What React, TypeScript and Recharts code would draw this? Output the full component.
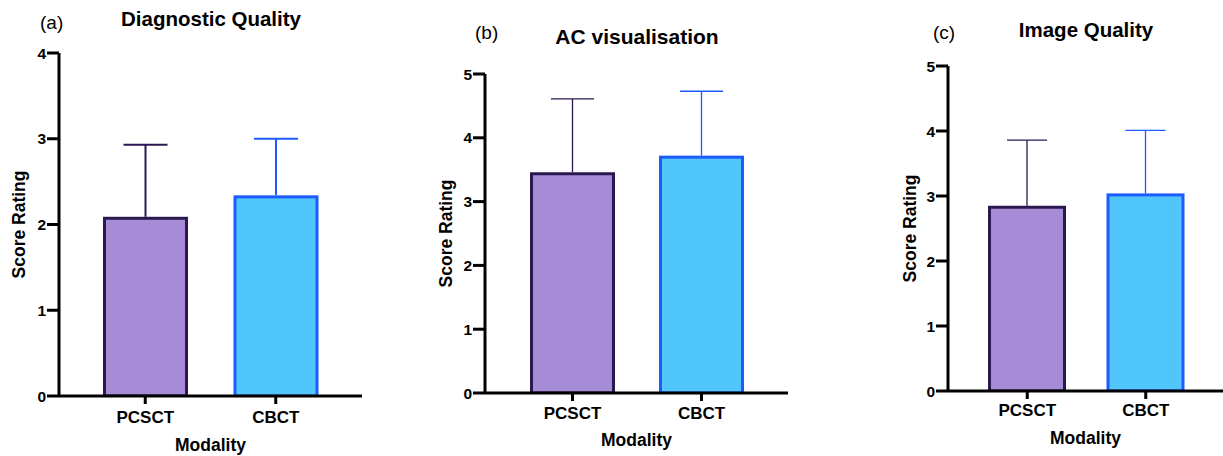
import { BarChart, Bar, XAxis, YAxis } from 'recharts';

const categories = ['PCSCT', 'CBCT'];

const diagnosticMean = [2.09, 2.34];
const diagnosticSd = [0.84, 0.66];

const acMean = [3.46, 3.72];
const acSd = [1.15, 1.01];

const imageMean = [2.85, 3.04];
const imageSd = [1.01, 0.97];

const ticks4 = [0, 1, 2, 3, 4];
const ticks5 = [0, 1, 2, 3, 4, 5];

const FILLS = ['#a68bd6', '#50c6fb'];
const STROKES = ['#2b1850', '#1e5bff'];
const FONT = '"Liberation Sans", Arial, sans-serif';
const AXIS_W = 3;

const buildRows = (means: number[], sds: number[]) =>
  categories.map((name, i) => ({ name, mean: means[i], sd: sds[i] }));

interface PanelProps {
  means: number[];
  sds: number[];
  yMax: number;
  ticks: number[];
  left: number;
  width: number;
  top: number;
  bottom: number;
  right: number;
  yWidth: number;
  padL: number;
  padR: number;
  barSize: number;
  capWidth: number;
  errWidth: number;
  yLabelOffset: number;
  xLabelOffset: number;
  xTickMargin: number;
}

function Panel(p: PanelProps) {
  const data = buildRows(p.means, p.sds);

  // bar with outline plus the upper error whisker
  const BarShape = (props: any) => {
    const { x, y, width, height, index, payload } = props;
    const perUnit = height / payload.mean;
    const errTop = y - payload.sd * perUnit;
    const cx = x + width / 2;
    const sw = 3;
    return (
      <g>
        <line x1={cx} x2={cx} y1={y} y2={errTop} stroke={STROKES[index]} strokeWidth={p.errWidth} />
        <line
          x1={cx - p.capWidth / 2}
          x2={cx + p.capWidth / 2}
          y1={errTop}
          y2={errTop}
          stroke={STROKES[index]}
          strokeWidth={p.errWidth}
        />
        <rect
          x={x + sw / 2}
          y={y + sw / 2}
          width={width - sw}
          height={height - sw / 2}
          fill={FILLS[index]}
          stroke={STROKES[index]}
          strokeWidth={sw}
        />
      </g>
    );
  };

  const XTick = (props: any) => {
    const { x, y, payload } = props;
    const axisY = y - p.xTickMargin;
    return (
      <g>
        <line x1={x} x2={x} y1={axisY} y2={axisY + 8} stroke="#000" strokeWidth={AXIS_W} />
        <text
          x={x}
          y={y + 12}
          textAnchor="middle"
          fontFamily={FONT}
          fontWeight="bold"
          fontSize={17}
          fill="#000"
        >
          {payload.value}
        </text>
      </g>
    );
  };

  const YTick = (props: any) => {
    const { x, y, payload } = props;
    return (
      <g>
        <line x1={x + 1} x2={x + 13} y1={y} y2={y} stroke="#000" strokeWidth={AXIS_W} />
        <text
          x={x}
          y={y + 5.5}
          textAnchor="end"
          fontFamily={FONT}
          fontWeight="bold"
          fontSize={15.5}
          fill="#000"
        >
          {payload.value}
        </text>
      </g>
    );
  };

  const yLabel = (props: any) => {
    const vb = props.viewBox;
    const lx = vb.x + p.yLabelOffset;
    const ly = vb.y + vb.height / 2;
    return (
      <text
        x={lx}
        y={ly}
        transform={`rotate(-90, ${lx}, ${ly})`}
        textAnchor="middle"
        dominantBaseline="central"
        fontFamily={FONT}
        fontWeight="bold"
        fontSize={17.5}
        fill="#000"
      >
        Score Rating
      </text>
    );
  };

  const xLabel = (props: any) => {
    const vb = props.viewBox;
    return (
      <text
        x={vb.x + vb.width / 2}
        y={vb.y + vb.height + p.xLabelOffset}
        textAnchor="middle"
        fontFamily={FONT}
        fontWeight="bold"
        fontSize={17.5}
        fill="#000"
      >
        Modality
      </text>
    );
  };

  const axisLine = { stroke: '#000', strokeWidth: AXIS_W };

  return (
    <div style={{ position: 'absolute', left: p.left, top: 0 }}>
      <BarChart
        width={p.width}
        height={456}
        data={data}
        margin={{ top: p.top, right: p.right, bottom: p.bottom, left: 0 }}
      >
        <Bar dataKey="mean" barSize={p.barSize} shape={BarShape} isAnimationActive={false} />
        <XAxis
          dataKey="name"
          height={30}
          padding={{ left: p.padL, right: p.padR }}
          axisLine={axisLine}
          tickLine={false}
          tickSize={0}
          tickMargin={p.xTickMargin}
          tick={XTick}
          label={{ content: xLabel }}
        />
        <YAxis
          width={p.yWidth}
          domain={[0, p.yMax]}
          ticks={p.ticks}
          interval={0}
          allowDataOverflow
          axisLine={axisLine}
          tickLine={false}
          tickSize={12}
          tickMargin={1}
          tick={YTick}
          label={{ content: yLabel }}
        />
      </BarChart>
    </div>
  );
}

const titleStyle = (cx: number, top: number, size: number): React.CSSProperties => ({
  position: 'absolute',
  left: cx,
  top,
  transform: 'translateX(-50%)',
  fontFamily: FONT,
  fontWeight: 'bold',
  fontSize: size,
  lineHeight: 1,
  whiteSpace: 'nowrap',
  color: '#000',
});

const tagStyle = (left: number, top: number): React.CSSProperties => ({
  position: 'absolute',
  left,
  top,
  fontFamily: FONT,
  fontSize: 19,
  lineHeight: 1,
  color: '#000',
});

export default function App() {
  return (
    <div
      style={{
        position: 'absolute',
        left: 0,
        top: 0,
        width: 1223,
        height: 456,
        background: '#fff',
        overflow: 'hidden',
      }}
    >
      <Panel
        means={diagnosticMean}
        sds={diagnosticSd}
        yMax={4}
        ticks={ticks4}
        left={0}
        width={370}
        top={53}
        bottom={30}
        right={8}
        yWidth={59}
        padL={21}
        padR={21}
        barSize={85}
        capWidth={44}
        errWidth={2}
        yLabelOffset={19}
        xLabelOffset={25}
        xTickMargin={15}
      />
      <Panel
        means={acMean}
        sds={acSd}
        yMax={5}
        ticks={ticks5}
        left={410}
        width={390}
        top={74}
        bottom={33}
        right={12}
        yWidth={75}
        padL={23}
        padR={22}
        barSize={85}
        capWidth={43}
        errWidth={1.3}
        yLabelOffset={36}
        xLabelOffset={23}
        xTickMargin={14}
      />
      <Panel
        means={imageMean}
        sds={imageSd}
        yMax={5}
        ticks={ticks5}
        left={880}
        width={343}
        top={66}
        bottom={35}
        right={0}
        yWidth={68}
        padL={20}
        padR={18}
        barSize={78}
        capWidth={40}
        errWidth={1.3}
        yLabelOffset={30}
        xLabelOffset={23}
        xTickMargin={13}
      />
      <div style={titleStyle(211, 9, 20.5)}>Diagnostic Quality</div>
      <div style={tagStyle(40, 13)}>(a)</div>
      <div style={titleStyle(637, 26, 21)}>AC visualisation</div>
      <div style={tagStyle(475, 23)}>(b)</div>
      <div style={titleStyle(1086, 20, 20.5)}>Image Quality</div>
      <div style={tagStyle(933, 23)}>(c)</div>
    </div>
  );
}
